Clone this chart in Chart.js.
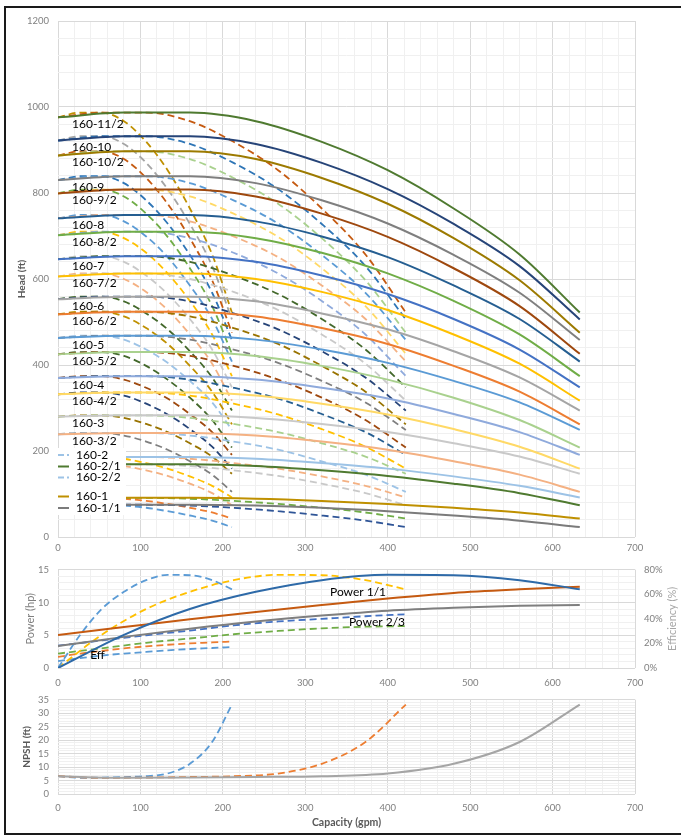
<!DOCTYPE html>
<html lang="en">
<head>
<meta charset="UTF-8">
<title>160 Series Pump Performance Curves</title>
<script src="https://cdn.jsdelivr.net/npm/chart.js"></script>
<style>
    body { margin: 0; background: #fff; }
    #wrap { position: relative; width: 681px; height: 836px; overflow: hidden; }
    #wrap canvas { position: absolute; left: 0; }
    #frame { position: absolute; left: 4px; top: 6px; width: 720px; height: 829px; border: 2px solid #1a1a1a; border-right: none; box-sizing: border-box; }
</style>
</head>
<body>
<div id="wrap">
    <canvas id="headChart" width="681" height="560" style="top:0"></canvas>
    <canvas id="powerChart" width="681" height="135" style="top:555px"></canvas>
    <canvas id="npshChart" width="681" height="151" style="top:685px"></canvas>
    <div id="frame"></div>
</div>

<script>
    // capacity points (gpm): full width, 2/3 and 1/3 impellers
    const capFull = [0, 80, 160, 240, 320, 400, 480, 560, 633];
    const capTwoThird = [0, 53, 107, 160, 213, 267, 320, 373, 422];
    const capOneThird = [0, 27, 53, 80, 107, 133, 160, 187, 211];

    // head (ft) per model
    const h11_2 = [976, 987, 987, 967, 919, 853, 764, 657, 522];
    const h10 = [922, 932, 932, 914, 870, 809, 728, 630, 506];
    const h10_2 = [887, 897, 897, 879, 835, 775, 695, 597, 475];
    const h9 = [830, 839, 839, 823, 783, 729, 656, 568, 458];
    const h9_2 = [799, 808, 808, 792, 752, 698, 625, 537, 426];
    const h8 = [741, 749, 749, 734, 699, 651, 585, 507, 408];
    const h8_2 = [702, 710, 710, 695, 661, 613, 549, 471, 374];
    const h7 = [646, 653, 653, 640, 608, 565, 507, 436, 348];
    const h7_2 = [606, 613, 613, 600, 570, 528, 471, 403, 317];
    const h6 = [553, 559, 559, 548, 520, 483, 432, 371, 294];
    const h6_2 = [518, 524, 524, 513, 486, 449, 398, 338, 262];
    const h5 = [463, 468, 468, 459, 436, 405, 363, 313, 249];
    const h5_2 = [425, 430, 430, 421, 398, 366, 324, 272, 208];
    const h4 = [370, 374, 374, 366, 347, 322, 286, 244, 191];
    const h4_2 = [332, 336, 336, 329, 310, 285, 251, 210, 159];
    const h3 = [280, 283, 283, 277, 263, 244, 218, 187, 147];
    const h3_2 = [239, 242, 242, 236, 222, 203, 176, 145, 105];
    const h2 = [184, 186, 186, 182, 172, 159, 141, 119, 92];
    const h2_1 = [167, 169, 169, 165, 155, 142, 124, 102, 74];
    const h1 = [90, 91, 91, 89, 84, 77, 68, 57, 43];
    const h1_1 = [74, 75, 75, 73, 68, 60, 50, 38, 23];

    const headSeries = [h11_2, h10, h10_2, h9, h9_2, h8, h8_2, h7, h7_2, h6, h6_2,
        h5, h5_2, h4, h4_2, h3, h3_2, h2, h2_1, h1, h1_1];
    const curveNames = ['160-11/2', '160-10', '160-10/2', '160-9', '160-9/2', '160-8', '160-8/2',
        '160-7', '160-7/2', '160-6', '160-6/2', '160-5', '160-5/2', '160-4', '160-4/2', '160-3', '160-3/2'];
    const legendNames = ['160-2', '160-2/1', '160-2/2', '160-1', '160-1/1'];

    // efficiency (%), same shape for each impeller width
    const efficiency = [0, 27, 48, 62, 71.5, 75.8, 75.5, 71.5, 64];
    // power (hp)
    const power1_1 = [5.05, 6.25, 7.45, 8.55, 9.6, 10.6, 11.45, 12.0, 12.4];
    const powerFull = [3.35, 4.75, 6.0, 7.1, 8.0, 8.75, 9.2, 9.5, 9.6];
    const power2_3 = [3.4, 4.2, 5.0, 5.7, 6.5, 7.1, 7.5, 7.9, 8.2];
    const power2_3b = [2.2, 3.0, 3.85, 4.5, 5.15, 5.65, 6.05, 6.3, 6.4];
    const power1_3 = [1.7, 2.2, 2.6, 3.0, 3.3, 3.55, 3.75, 3.9, 4.05];
    const power1_3b = [1.05, 1.5, 1.9, 2.2, 2.45, 2.7, 2.9, 3.05, 3.2];
    // NPSH required (ft)
    const npsh = [6.6, 6.0, 6.1, 6.3, 6.6, 7.6, 11.2, 19.3, 33.2];

    const solidColors = ['#4f7a30', '#264478', '#9c7a00', '#7f7f7f', '#9e480e', '#255e91', '#70ad47',
        '#4472c4', '#ffc000', '#a5a5a5', '#ed7d31', '#5b9bd5', '#a9d18e', '#8faadc', '#ffd966',
        '#c9c9c9', '#f4b183', '#9dc3e6', '#4f7a30', '#bf9000', '#7b7b7b'];
    const twoThirdColors = ['#c55a11', '#2e75b6', '#a9d18e', '#5b9bd5', '#ffd966', '#f4b183', '#8faadc',
        '#43682b', '#c9c9c9', '#264478', '#997300', '#7f7f7f', '#9e480e', '#255e91', '#ffc000',
        '#a9d18e', '#9dc3e6', '#f4b183', '#c9c9c9', '#70ad47', '#2f5597'];
    const oneThirdColors = ['#bf9000', '#a5a5a5', '#c55a11', '#2e75b6', '#70ad47', '#5b9bd5', '#ffc000',
        '#c9c9c9', '#f4b183', '#43682b', '#bf9000', '#9dc3e6', '#43682b', '#9e480e', '#264478',
        '#997300', '#7f7f7f', '#ffc000', '#f4b183', '#ed7d31', '#5b9bd5'];

    const tickFont = { family: 'Lato', size: 9.5 };
    const tickColor = '#808080';
    const majorGrid = '#d9d9d9';
    const minorGrid = '#f0f0f0';
    const dash = [7, 4];

    function pts(caps, vals) {
        return caps.map((q, i) => ({ x: q, y: vals[i] }));
    }

    function line(caps, vals, color, dashed, order, yAxisID) {
        return {
            data: pts(caps, vals), borderColor: color, borderWidth: dashed ? 1.8 : 2,
            borderDash: dashed ? dash : [], order: order, yAxisID: yAxisID || 'y'
        };
    }

    function xAxis(padding, height) {
        return {
            type: 'linear', min: 0, max: 700,
            border: { display: false },
            grid: { drawTicks: false, color: c => c.tick.value % 100 === 0 ? majorGrid : minorGrid },
            ticks: {
                stepSize: 20, autoSkip: false, maxRotation: 0, padding: padding,
                color: tickColor, font: tickFont, callback: v => v % 100 === 0 ? v : ''
            },
            afterFit: s => { s.height = height; }
        };
    }

    function yAxis(max, step, major) {
        return {
            min: 0, max: max,
            border: { display: false },
            grid: { drawTicks: false, color: c => c.tick.value % major === 0 ? majorGrid : minorGrid },
            ticks: {
                stepSize: step, autoSkip: false, padding: 9,
                color: tickColor, font: tickFont, callback: v => v % major === 0 ? v : ''
            },
            afterFit: s => { s.width = 58; }
        };
    }

    const baseOptions = {
        responsive: false,
        animation: false,
        elements: {
            point: { radius: 0 },
            line: { cubicInterpolationMode: 'monotone', fill: false, borderCapStyle: 'butt' }
        }
    };

    // free text: axis titles
    const axisTitles = {
        id: 'axisTitles',
        afterDraw(chart, args, opts) {
            const { ctx, chartArea } = chart;
            (opts.items || []).forEach(t => {
                ctx.save();
                ctx.font = t.font;
                ctx.fillStyle = t.color || '#595959';
                const y = t.y === 'mid' ? (chartArea.top + chartArea.bottom) / 2 : t.y;
                ctx.translate(t.x, y);
                ctx.rotate(t.rot || 0);
                ctx.textAlign = 'center';
                ctx.textBaseline = 'middle';
                ctx.fillText(t.text, 0, 0);
                ctx.restore();
            });
        }
    };

    // model labels next to the head curves + small legend box
    const curveLabels = {
        id: 'curveLabels',
        afterDatasetsDraw(chart) {
            const { ctx, chartArea, scales: { y } } = chart;
            ctx.save();
            ctx.font = '12px Lato';
            ctx.fillStyle = '#000';
            ctx.textBaseline = 'middle';
            curveNames.forEach((name, i) => {
                ctx.fillText(name, chartArea.left + 14, y.getPixelForValue(headSeries[i][0]) + 7);
            });

            ctx.fillStyle = '#fff';
            ctx.fillRect(chartArea.left, 448, 68, 67);
            const rows = [455, 466.5, 477.5, 496.5, 508];
            const keyColors = ['#9dc3e6', '#4f7a30', '#9dc3e6', '#bf9000', '#7b7b7b'];
            const keyDashed = [true, false, true, false, false];
            legendNames.forEach((name, i) => {
                ctx.strokeStyle = keyColors[i];
                ctx.lineWidth = 2;
                ctx.setLineDash(keyDashed[i] ? [6, 3] : []);
                ctx.beginPath();
                ctx.moveTo(chartArea.left, rows[i]);
                ctx.lineTo(chartArea.left + 11, rows[i]);
                ctx.stroke();
                ctx.fillStyle = '#000';
                ctx.fillText(name, chartArea.left + 18, rows[i]);
            });
            ctx.restore();
        }
    };

    const powerLabels = {
        id: 'powerLabels',
        afterDatasetsDraw(chart) {
            const { ctx, scales: { x, y } } = chart;
            ctx.save();
            ctx.font = '12px Lato';
            ctx.fillStyle = '#000';
            ctx.textBaseline = 'middle';
            ctx.fillText('Power 1/1', x.getPixelForValue(330), y.getPixelForValue(11.6));
            ctx.fillText('Power 2/3', x.getPixelForValue(353), y.getPixelForValue(7.0));
            ctx.fillText('Eff', x.getPixelForValue(39), y.getPixelForValue(1.9));
            ctx.restore();
        }
    };

    // ---- head chart ----
    const headDatasets = [];
    headSeries.forEach((h, i) => headDatasets.push(line(capFull, h, solidColors[i], false, 0)));
    headSeries.forEach((h, i) => headDatasets.push(line(capTwoThird, h, twoThirdColors[i], true, 1)));
    headSeries.forEach((h, i) => headDatasets.push(line(capOneThird, h, oneThirdColors[i], true, 2)));

    new Chart(document.getElementById('headChart'), {
        type: 'line',
        data: { datasets: headDatasets },
        options: {
            ...baseOptions,
            layout: { padding: { top: 21, right: 46, bottom: 0, left: 0 } },
            scales: { x: xAxis(5, 23), y: yAxis(1200, 40, 200) },
            plugins: {
                legend: { display: false }, tooltip: { enabled: false },
                axisTitles: { items: [{ text: 'Head (ft)', x: 22, y: 'mid', rot: -Math.PI / 2, font: 'bold 10px Lato' }] }
            }
        },
        plugins: [curveLabels, axisTitles]
    });

    // ---- power / efficiency chart ----
    const effAxis = {
        position: 'right', min: 0, max: 80,
        border: { display: false },
        grid: { display: false, drawTicks: false },
        ticks: { stepSize: 20, padding: 9, color: tickColor, font: tickFont, callback: v => v + '%' },
        afterFit: s => { s.width = 46; }
    };

    new Chart(document.getElementById('powerChart'), {
        type: 'line',
        data: {
            datasets: [
                line(capFull, efficiency, '#2e6aa8', false, 0, 'eff'),
                line(capFull, power1_1, '#c55a11', false, 0),
                line(capFull, powerFull, '#7f7f7f', false, 0),
                line(capOneThird, efficiency, '#5b9bd5', true, 1, 'eff'),
                line(capTwoThird, efficiency, '#ffc000', true, 1, 'eff'),
                line(capTwoThird, power2_3, '#4472c4', true, 1),
                line(capTwoThird, power2_3b, '#70ad47', true, 1),
                line(capOneThird, power1_3, '#ed7d31', true, 1),
                line(capOneThird, power1_3b, '#5b9bd5', true, 1)
            ]
        },
        options: {
            ...baseOptions,
            layout: { padding: { top: 12, right: 0, bottom: 0, left: 0 } },
            scales: { x: xAxis(9, 22), y: yAxis(15, 1, 5), eff: effAxis },
            plugins: {
                legend: { display: false }, tooltip: { enabled: false },
                axisTitles: {
                    items: [
                        { text: 'Power (hp)', x: 30, y: 'mid', rot: -Math.PI / 2, font: '11px Lato', color: '#7f7f7f' },
                        { text: 'Efficiency (%)', x: 672, y: 'mid', rot: -Math.PI / 2, font: '11px Lato', color: '#a6a6a6' }
                    ]
                }
            }
        },
        plugins: [powerLabels, axisTitles]
    });

    // ---- NPSH chart ----
    new Chart(document.getElementById('npshChart'), {
        type: 'line',
        data: {
            datasets: [
                line(capFull, npsh, '#a5a5a5', false, 0),
                line(capTwoThird, npsh, '#ed7d31', true, 1),
                line(capOneThird, npsh, '#5b9bd5', true, 1)
            ]
        },
        options: {
            ...baseOptions,
            layout: { padding: { top: 12, right: 46, bottom: 0, left: 0 } },
            scales: { x: xAxis(8, 42), y: yAxis(35, 1, 5) },
            plugins: {
                legend: { display: false }, tooltip: { enabled: false },
                axisTitles: {
                    items: [
                        { text: 'NPSH (ft)', x: 27, y: 'mid', rot: -Math.PI / 2, font: 'bold 10px Lato' },
                        { text: 'Capacity (gpm)', x: 346.5, y: 138, font: 'bold 10.5px Lato' }
                    ]
                }
            }
        },
        plugins: [axisTitles]
    });
</script>
</body>
</html>
